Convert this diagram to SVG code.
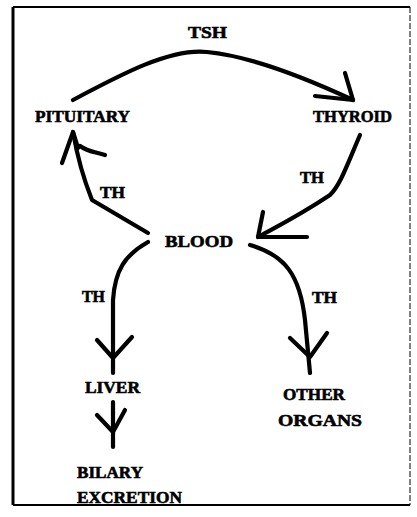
<svg xmlns="http://www.w3.org/2000/svg" width="417" height="517" viewBox="0 0 417 517">
<style>
.t{font-family:"Liberation Serif","Times New Roman",serif;font-weight:bold;font-size:17px;fill:#000;stroke:#000;stroke-width:0.6}
.c{fill:none;stroke:#000;stroke-width:4.2;stroke-linecap:round;stroke-linejoin:round}
.b{stroke:#000;fill:none}
</style>
<rect width="417" height="517" fill="#fff"/>
<g id="frame">
<line class="b" x1="13" y1="7" x2="13" y2="505" stroke-width="3"/>
<line class="b" x1="13" y1="7" x2="410" y2="7" stroke-width="2"/>
<line class="b" x1="13" y1="505" x2="410" y2="505" stroke-width="2"/>
<line class="b" x1="410" y1="7" x2="410" y2="505" stroke-width="1" stroke-dasharray="6 2"/>
</g>
<g id="connectors">
<path class="c" d="M73,100 C120,75 170,48 207,52 C250,56 310,80 353,100"/>
<path class="c" d="M345,73 L353,100 L315,96"/>
<path class="c" d="M148,233 L92,200 C84,180 77,155 73,132"/>
<path class="c" d="M62,163 L73,132 L78,148 M80,146 C88,152 96,152 105,155"/>
<path class="c" d="M360,135 C345,170 340,185 330,195 C300,215 280,225 258,237"/>
<path class="c" d="M263,212 L258,237 L307,237"/>
<path class="c" d="M148,242 C125,255 115,270 113,300 L113,373"/>
<path class="c" d="M97,340 L113,358 L132,337"/>
<path class="c" d="M250,245 C285,255 300,275 305,320 L310,373"/>
<path class="c" d="M290,338 L310,357 L327,333"/>
<path class="c" d="M113,402 L113,447"/>
<path class="c" d="M97,415 L113,432 L125,410"/>
</g>
<g id="labels">
<text class="t" x="188" y="38" textLength="39" lengthAdjust="spacingAndGlyphs">TSH</text>
<text class="t" x="100" y="198" textLength="25" lengthAdjust="spacingAndGlyphs">TH</text>
<text class="t" x="300" y="183" textLength="24" lengthAdjust="spacingAndGlyphs">TH</text>
<text class="t" x="82" y="302" textLength="23" lengthAdjust="spacingAndGlyphs">TH</text>
<text class="t" x="312" y="303" textLength="25" lengthAdjust="spacingAndGlyphs">TH</text>
</g>
<g id="pituitary"><text class="t" x="35" y="122" textLength="95" lengthAdjust="spacingAndGlyphs">PITUITARY</text></g>
<g id="thyroid"><text class="t" x="313" y="122" textLength="79" lengthAdjust="spacingAndGlyphs">THYROID</text></g>
<g id="blood"><text class="t" x="165" y="247" textLength="68" lengthAdjust="spacingAndGlyphs">BLOOD</text></g>
<g id="liver"><text class="t" x="85" y="393" textLength="55" lengthAdjust="spacingAndGlyphs">LIVER</text></g>
<g id="other-organs"><text class="t" x="283" y="400" textLength="62" lengthAdjust="spacingAndGlyphs">OTHER</text><text class="t" x="278" y="426" textLength="84" lengthAdjust="spacingAndGlyphs">ORGANS</text></g>
<g id="biliary"><text class="t" x="77" y="478" textLength="66" lengthAdjust="spacingAndGlyphs">BILARY</text><text class="t" x="77" y="503" textLength="105" lengthAdjust="spacingAndGlyphs">EXCRETION</text></g>
</svg>
